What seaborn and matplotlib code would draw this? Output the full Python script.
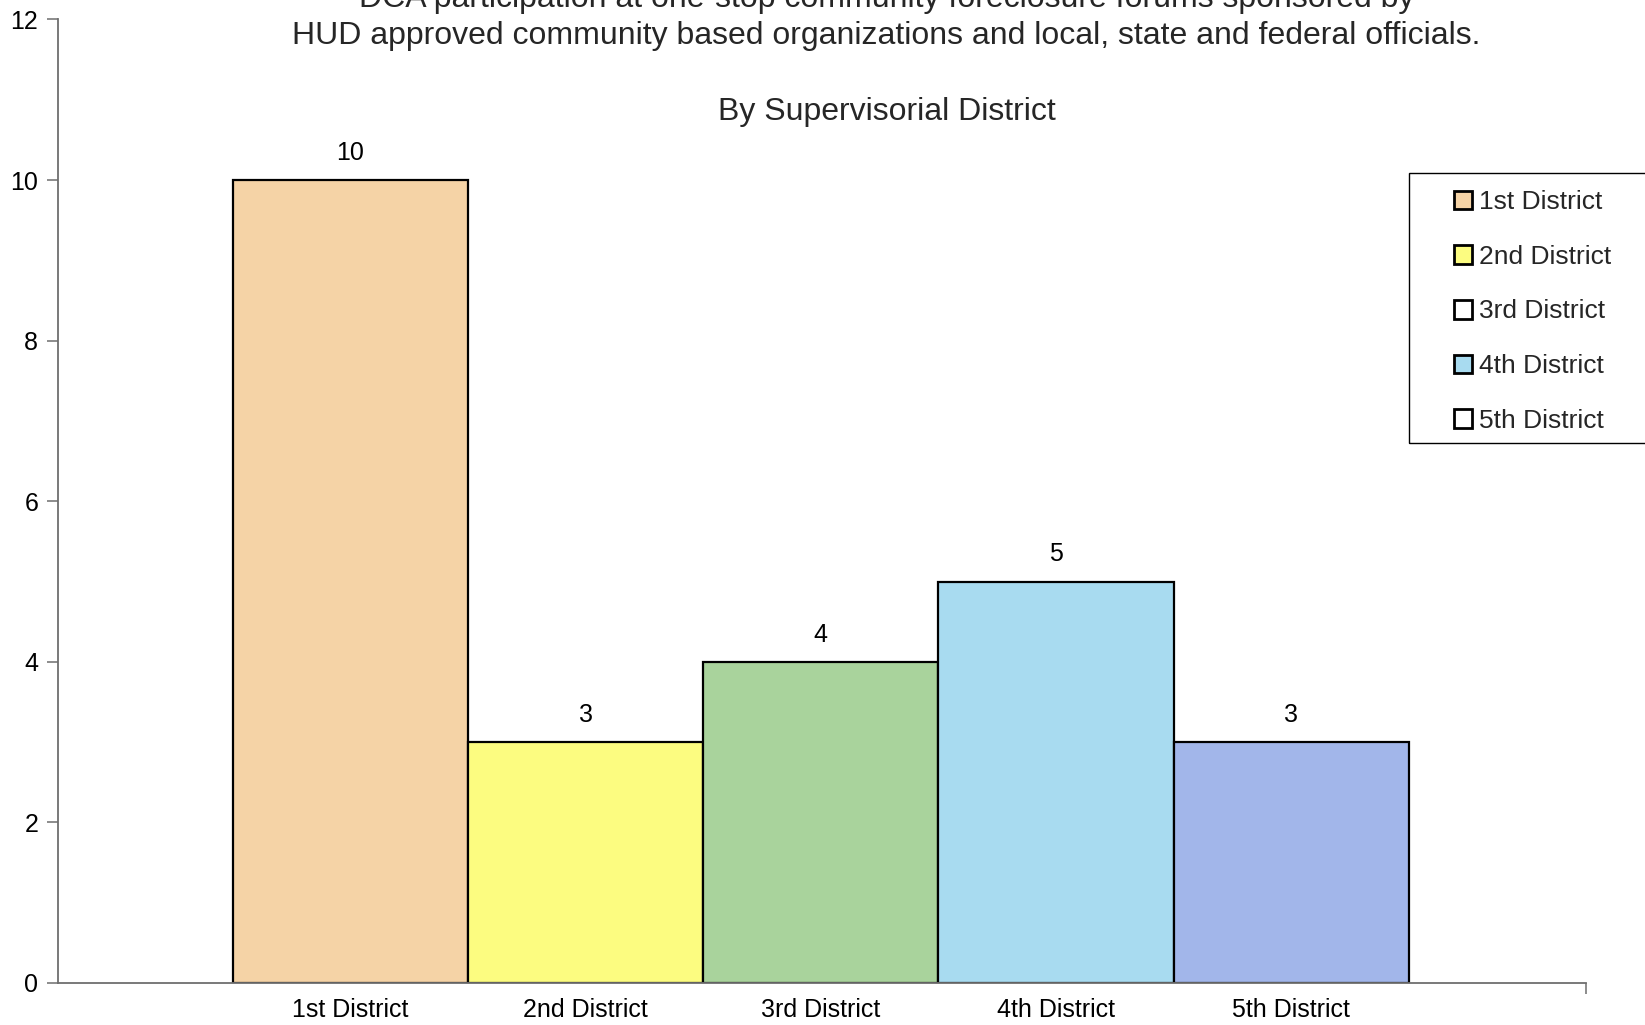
import matplotlib
matplotlib.use("Agg")
import matplotlib.pyplot as plt
from matplotlib.patches import Patch, Rectangle
import seaborn as sns
import pandas as pd

# Forum participation counts per supervisorial district
districts = ["1st District", "2nd District", "3rd District", "4th District", "5th District"]
forums = [10, 3, 4, 5, 3]
bar_colors = ["#F5D3A6", "#FCFC80", "#A9D39C", "#A8DBF0", "#A2B6EA"]
legend_colors = ["#F5D3A6", "#FCFC80", "#FFFFFF", "#A8DBF0", "#FFFFFF"]
y_ticks = [0, 2, 4, 6, 8, 10, 12]

title_lines = [
    "DCA participation at one-stop community foreclosure forums sponsored by",
    "HUD approved community based organizations and local, state and federal officials.",
]
subtitle = "By Supervisorial District"

sns.set_theme(style="white")
plt.rcParams["font.family"] = ["Liberation Sans", "DejaVu Sans"]

df = pd.DataFrame({"district": districts, "forums": forums})

fig = plt.figure(figsize=(16.45, 10.25), dpi=100)
ax = fig.add_axes([0.035, 0.041, 0.929, 0.940])

sns.barplot(
    data=df, x="district", y="forums", hue="district",
    palette=bar_colors, width=1.0, edgecolor="black", linewidth=1.6,
    saturation=1, legend=False, ax=ax,
)

x_left, x_right = -1.245, 5.253
ax.set_xlim(x_left, x_right)
ax.set_ylim(0, 12)
ax.set_yticks(y_ticks)
ax.set_xlabel("")
ax.set_ylabel("")

sns.despine(ax=ax, top=True, right=True)
for side in ("left", "bottom"):
    ax.spines[side].set_color("#6e6e6e")
    ax.spines[side].set_linewidth(1.3)

ax.tick_params(axis="y", which="major", direction="out", length=8, width=1.1,
               color="#6e6e6e", labelsize=18, pad=6, left=True)
ax.tick_params(axis="x", which="major", length=0, labelsize=18, pad=11)
ax.set_xticks([x_right], minor=True)
ax.tick_params(axis="x", which="minor", direction="out", length=8, width=1.1,
               color="#6e6e6e", bottom=True)
for lbl in ax.get_yticklabels() + ax.get_xticklabels():
    lbl.set_color("black")

# Value labels above each bar
for i, v in enumerate(forums):
    ax.annotate(str(v), xy=(i, v), xytext=(0, 11), textcoords="offset points",
                ha="center", va="bottom", fontsize=18, color="black")

# Titles
fig.text(0.539, 1.0 + 0.001, title_lines[0], ha="center", va="center", fontsize=23)
fig.text(0.539, 1 - 36 / 1025, title_lines[1], ha="center", va="center", fontsize=23)
fig.text(0.539, 1 - 112 / 1025, subtitle, ha="center", va="center", fontsize=23)

# Legend with square swatches
handles = [Patch(facecolor=c, edgecolor="black", linewidth=2.0) for c in legend_colors]
leg = fig.legend(
    handles, districts, loc="upper left",
    bbox_to_anchor=(1455 / 1645 - 0.004, 1 - 185 / 1025),
    frameon=False, fontsize=19, handlelength=0.7, handleheight=0.7,
    handletextpad=0.25, labelspacing=1.16, borderpad=0.2, borderaxespad=0,
)
fig.add_artist(Rectangle((1409 / 1645, 1 - 443 / 1025), 0.2, 270 / 1025,
                         transform=fig.transFigure, fill=False,
                         edgecolor="black", linewidth=1.0))

fig.savefig("out.png", dpi=100, facecolor="white")
